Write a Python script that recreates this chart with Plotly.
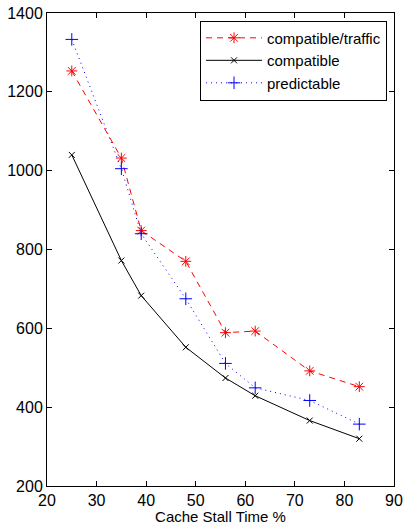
import plotly.graph_objects as go

x_vals = [25, 35, 39, 48, 56, 62, 73, 83]
compatible_traffic = [1253, 1032, 848, 770, 589, 593, 492, 452]
compatible = [1040, 772, 683, 552, 474, 429, 366, 320]
predictable = [1333, 1005, 840, 675, 511, 449, 417, 357]

FONT = "Liberation Sans, Arial"

fig = go.Figure()
fig.add_trace(go.Scatter(
    x=x_vals, y=compatible_traffic, name="compatible/traffic", mode="lines+markers",
    line=dict(color="red", dash="6px,5px", width=1),
    marker=dict(symbol="asterisk-open", size=9, color="red", line=dict(color="red", width=1))))
fig.add_trace(go.Scatter(
    x=x_vals, y=compatible, name="compatible", mode="lines+markers",
    line=dict(color="black", width=1),
    marker=dict(symbol="x-thin-open", size=6, color="black", line=dict(color="black", width=1))))
fig.add_trace(go.Scatter(
    x=x_vals, y=predictable, name="predictable", mode="lines+markers",
    line=dict(color="blue", dash="1px,4px", width=1),
    marker=dict(symbol="cross-thin-open", size=9, color="blue", line=dict(color="blue", width=1))))

axis_common = dict(showgrid=False, zeroline=False, showline=True, linecolor="black", linewidth=1,
                   mirror="ticks", ticks="inside", ticklen=5, tickcolor="black", automargin=False,
                   tickfont=dict(family=FONT, size=16, color="black"))
fig.update_xaxes(range=[20, 90], tickvals=[20, 30, 40, 50, 60, 70, 80, 90],
                 title=dict(text="Cache Stall Time %", font=dict(family=FONT, size=15, color="black"), standoff=0),
                 **axis_common)
fig.update_yaxes(range=[200, 1400], tickvals=[200, 400, 600, 800, 1000, 1200, 1400], **axis_common)

fig.update_layout(
    width=404, height=525,
    margin=dict(l=47, r=10, t=13, b=39, autoexpand=False),
    paper_bgcolor="white", plot_bgcolor="white",
    showlegend=True,
    legend=dict(x=0.441, y=0.984, xanchor="left", yanchor="top",
                bgcolor="white", bordercolor="black", borderwidth=1,
                font=dict(family=FONT, size=15, color="black"),
                tracegroupgap=0, itemwidth=56),
)
fig.write_html("out.html", config={"displayModeBar": False},
               post_script="document.body.style.margin='0px';document.body.style.overflow='hidden';")
